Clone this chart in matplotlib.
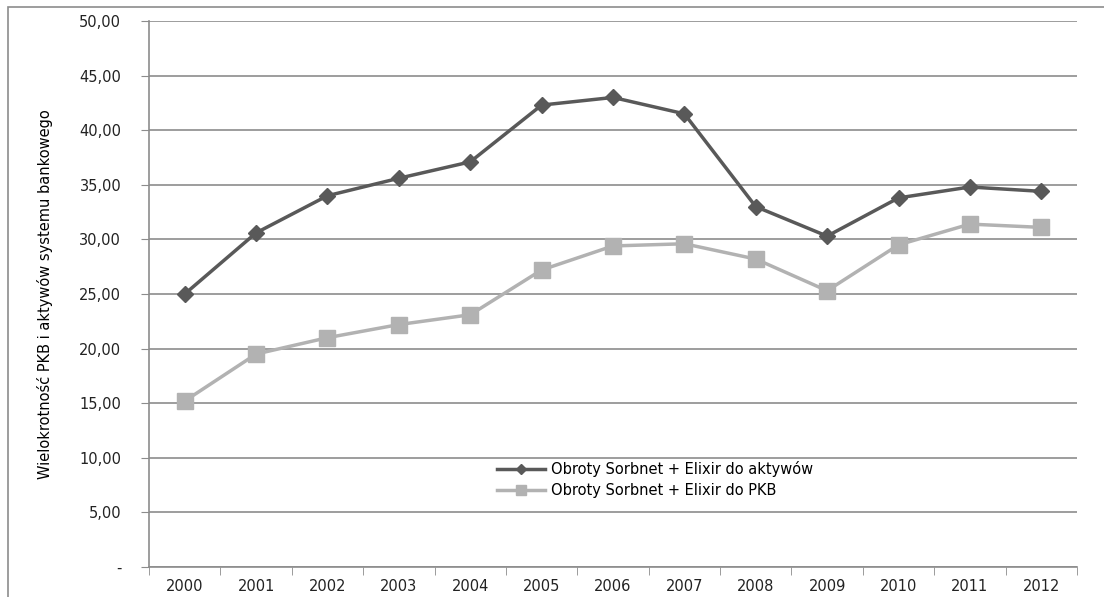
import matplotlib.pyplot as plt
from matplotlib.patches import Rectangle

years = [str(y) for y in range(2000, 2013)]
do_aktywow = [25.0, 30.6, 34.0, 35.6, 37.1, 42.3, 43.0, 41.5, 33.0, 30.3, 33.8, 34.8, 34.4]
do_pkb = [15.2, 19.5, 21.0, 22.2, 23.1, 27.2, 29.4, 29.6, 28.2, 25.3, 29.5, 31.4, 31.1]

label_aktywa = "Obroty Sorbnet + Elixir do aktywów"
label_pkb = "Obroty Sorbnet + Elixir do PKB"
ylabel = "Wielokrotność PKB i aktywów systemu bankowego"

plt.rcParams['font.family'] = ['DejaVu Sans']

fig = plt.figure(figsize=(11.04, 5.97), dpi=100)
ax = fig.add_axes([0.135, 0.0503, 0.8405, 0.9145])

x = list(range(len(years)))
ax.plot(x, do_aktywow, color='#595959', lw=2.5, marker='D', ms=8,
        label=label_aktywa, zorder=3)
ax.plot(x, do_pkb, color='#b2b2b2', lw=2.5, marker='s', ms=11,
        label=label_pkb, zorder=3)

ax.set_xlim(-0.5, len(years) - 0.5)
ax.set_ylim(0, 50)
yt = list(range(0, 51, 5))
ax.set_yticks(yt)
ax.set_yticklabels(['-'] + [f"{v:.2f}".replace('.', ',') for v in yt[1:]],
                   fontsize=10.5, color='#222222')
ax.set_xticks(x)
ax.set_xticklabels(years, fontsize=10.5, color='#222222')
ax.set_xticks([i - 0.5 for i in range(len(years) + 1)], minor=True)
ax.tick_params(axis='x', which='major', length=0, pad=9)
ax.tick_params(axis='x', which='minor', length=6, color='#8c8c8c')
ax.tick_params(axis='y', length=6, color='#8c8c8c', pad=14)

ax.grid(axis='y', color='#8c8c8c', lw=1.2)
ax.set_axisbelow(True)
for side in ['top', 'right']:
    ax.spines[side].set_visible(False)
for side in ['left', 'bottom']:
    ax.spines[side].set_color('#8c8c8c')
    ax.spines[side].set_linewidth(1.2)

ax.set_ylabel(ylabel, fontsize=10.5)
ax.yaxis.set_label_coords(-0.103, 0.5)

ax.legend(loc='upper left', bbox_to_anchor=(0.369, 0.205), frameon=False,
          fontsize=10.5, handlelength=3.3, handletextpad=0.4, markerscale=0.65,
          labelspacing=0.45, borderaxespad=0)

fig.patches.append(Rectangle((0.0075, -0.01), 1.1, 0.998, transform=fig.transFigure,
                             fill=False, edgecolor='#8c8c8c', lw=1.2))

fig.savefig('out.png', dpi=100)
